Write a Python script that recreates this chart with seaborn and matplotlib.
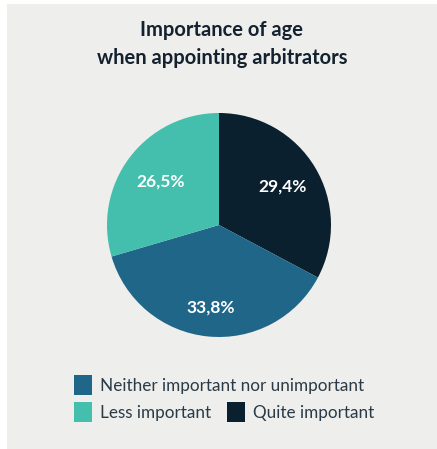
import numpy as np
import matplotlib
matplotlib.use("Agg")
import matplotlib.pyplot as plt
import seaborn as sns
from matplotlib.patches import Rectangle, Patch

categories = ["Quite important", "Neither important nor unimportant", "Less important"]
values = [29.4, 33.8, 26.5]
colors = ["#0a202f", "#1f6689", "#45bfad"]
title = "Importance of age\nwhen appointing arbitrators"

sns.set_theme(style="white")
plt.rcParams['font.family'] = ['Lato', 'DejaVu Sans']

W, H = 437, 449
fig = plt.figure(figsize=(W / 100, H / 100), dpi=100, facecolor="white")

# gray panel
fig.patches.append(Rectangle((7 / W, 0), 1 - 7 / W, 1 - 4 / H, transform=fig.transFigure,
                             facecolor="#eeeeec", edgecolor="none", zorder=-5))

fig.text(222 / W, 1 - 44 / H, title, ha="center", va="center", fontsize=14.5,
         fontweight="bold", color="#13222e", linespacing=1.45)

cx, cy, r = 219, 225, 112
ax = fig.add_axes([(cx - r) / W, (H - cy - r) / H, 2 * r / W, 2 * r / H])
ax.set_facecolor("none")
ax.set_zorder(2)
palette = sns.color_palette(colors)
wedges, _ = ax.pie(values, colors=palette, startangle=90, counterclock=False,
                   wedgeprops=dict(linewidth=0, edgecolor="none"))
ax.set_xlim(-1, 1)
ax.set_ylim(-1, 1)
ax.set_aspect("auto")
ax.axis("off")

label_dist = [0.66, 0.74, 0.65]
for w, v, d in zip(wedges, values, label_dist):
    ang = np.deg2rad((w.theta1 + w.theta2) / 2)
    ax.text(d * np.cos(ang), d * np.sin(ang), f"{v:.1f}%".replace(".", ","),
            ha="center", va="center", color="white", fontsize=12.5, fontweight="bold")

handles = {c: Patch(facecolor=col, edgecolor="none") for c, col in zip(categories, palette)}
leg_kw = dict(frameon=False, handlelength=1.05, handleheight=1.5, handletextpad=0.45,
              fontsize=12.3, labelcolor="#2a3a46", borderpad=0, borderaxespad=0,
              columnspacing=0.95)
leg1 = fig.legend([handles[categories[1]]], [categories[1]], loc="center left",
                  bbox_to_anchor=(74 / W, 1 - 385 / H), **leg_kw)
leg2 = fig.legend([handles[categories[2]], handles[categories[0]]],
                  [categories[2], categories[0]], ncol=2, loc="center left",
                  bbox_to_anchor=(74 / W, 1 - 412 / H), **leg_kw)

fig.savefig("out.png", dpi=100, facecolor="white")
